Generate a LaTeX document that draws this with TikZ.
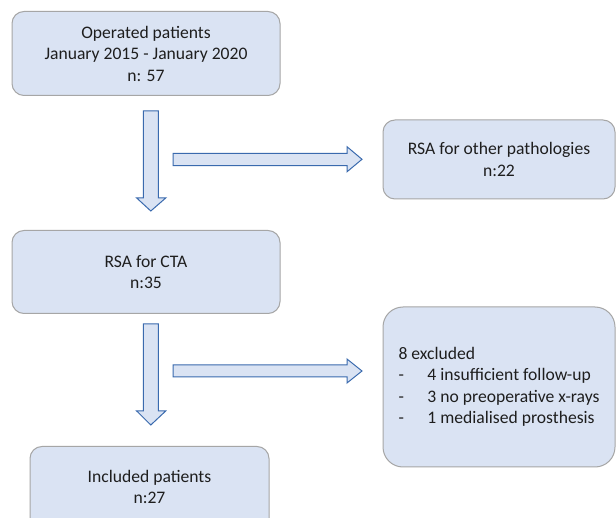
\documentclass[tikz,border=0pt]{standalone}
\usepackage{fontspec}
\setmainfont{Carlito}
\definecolor{boxfill}{HTML}{DAE3F3}
\definecolor{boxdraw}{HTML}{A6A6A6}
\definecolor{arrfill}{HTML}{DAE3F3}
\definecolor{arrdraw}{HTML}{3A6AAE}
\definecolor{txt}{HTML}{1E1E1E}
\begin{document}
\begin{tikzpicture}[x=1pt,y=-1pt,
  box/.style={fill=boxfill,draw=boxdraw,line width=1pt,rounded corners=12pt,
    text=txt,font=\fontsize{17.6}{21.5}\selectfont,align=center,inner sep=0pt},
  blockarrow/.style={fill=arrfill,draw=arrdraw,line width=1pt,line join=miter}]
\useasboundingbox (0,0) rectangle (616,518);
\clip (0,0) rectangle (616,518);
\fill[white] (0,0) rectangle (616,518);
% boxes
\node[box,minimum width=268pt,minimum height=84pt] (op) at (146,53.5)
  {Operated patients\\January 2015 - January 2020\\n: 57};
\node[box,minimum width=268pt,minimum height=83pt] (cta) at (146,272)
  {RSA for CTA\\n:35};
\node[box,minimum width=239pt,minimum height=90pt,anchor=north] (inc) at (149.5,446)
  {};
\node[text=txt,font=\fontsize{17.6}{21.5}\selectfont,align=center] (inctxt) at (149.5,487)
  {Included patients\\n:27};
\node[box,minimum width=232pt,minimum height=79pt] (oth) at (499,159.5)
  {RSA for other pathologies\\n:22};
\node[box,rounded corners=20pt,minimum width=232pt,minimum height=160pt,align=left] (exc) at (499,387)
  {8 excluded\\\makebox[29pt][l]{-}4 insufficient follow-up\\\makebox[29pt][l]{-}3 no preoperative x-rays\\\makebox[29pt][l]{-}1 medialised prosthesis};
% block arrows
\draw[blockarrow] (143.3,111) -- (158.3,111) -- (158.3,198) -- (165.7,198) -- (150.8,211)
  -- (136.7,198) -- (143.3,198) -- cycle;
\draw[blockarrow] (173,153.3) -- (347,153.3) -- (347,146.7) -- (362,159.3) -- (347,171.8)
  -- (347,165.7) -- (173,165.7) -- cycle;
\draw[blockarrow] (143.3,324) -- (158.3,324) -- (158.3,411) -- (165.7,411) -- (150.8,425)
  -- (136.7,411) -- (143.3,411) -- cycle;
\draw[blockarrow] (173,365) -- (347,365) -- (347,359) -- (362,371) -- (347,383)
  -- (347,377) -- (173,377) -- cycle;
\end{tikzpicture}
\end{document}
